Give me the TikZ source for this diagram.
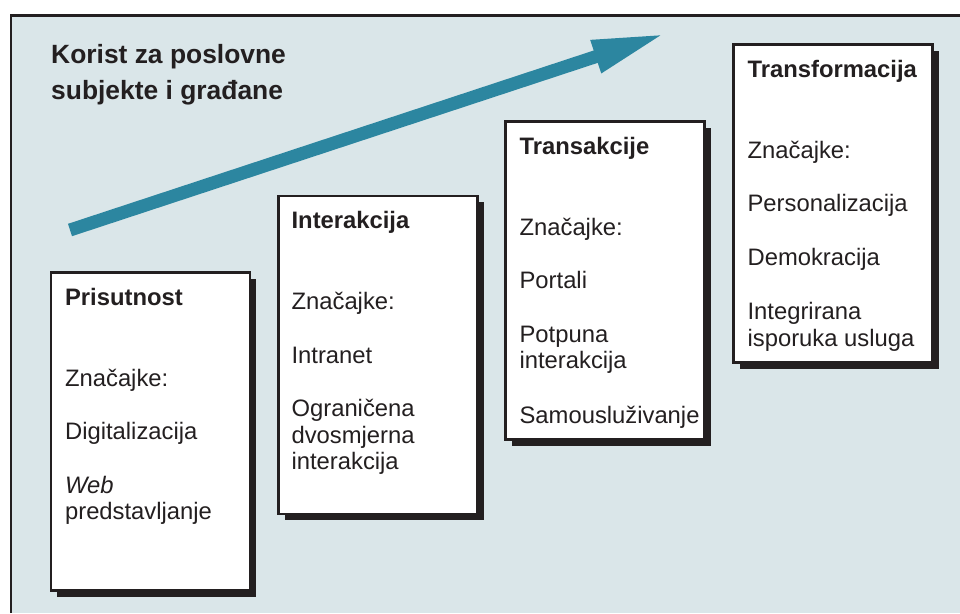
\documentclass[tikz,border=0pt]{standalone}
\usepackage{fontspec}
\setmainfont{Liberation Sans}
\usetikzlibrary{calc,shadows,arrows.meta}
\definecolor{bgc}{RGB}{218,230,233}
\definecolor{teal1}{RGB}{44,134,160}
\definecolor{ink}{RGB}{35,31,32}
\tikzset{
  stagebox/.style={draw=ink, line width=2.2pt, fill=white, rectangle, inner sep=0pt,
    minimum width=199pt, minimum height=318pt,
    drop shadow={shadow xshift=6pt, shadow yshift=-6pt, fill=ink, opacity=1}},
  txt/.style={anchor=base west, inner sep=0pt, font=\fontsize{23.8}{26.5}\selectfont, text=ink},
  ttl/.style={txt, font=\fontsize{23.8}{26.5}\selectfont\bfseries},
  bigttl/.style={anchor=base west, inner sep=0pt, font=\fontsize{26.4}{36}\selectfont\bfseries, text=ink}
}
\begin{document}
\begin{tikzpicture}[x=1pt,y=-1pt]
\useasboundingbox (0,0) rectangle (960,613);
\fill[bgc] (11,15.5) rectangle (960,613);
\draw[ink, line width=2.5pt] (11,613) -- (11,15.5) -- (960,15.5);

\node[bigttl] (t1) at (51,63) {Korist za poslovne};
\node[bigttl] (t2) at (51,99) {subjekte i građane};

\coordinate (as) at (70,230);
\coordinate (at) at (666,33.5);
\draw[teal1, line width=13pt, -{Triangle[length=74pt,width=31pt]}] (as) -- (at);

% boxes
\node[stagebox] (b1) at (150.5,431.5) {};
\node[stagebox] (b2) at (378,355) {};
\node[stagebox] (b3) at (605,280.5) {};
\node[stagebox] (b4) at (833,203.5) {};

% box 1
\node[ttl] (b1a) at ($(b1.north west)+(15,34)$) {Prisutnost};
\node[txt] (b1b) at ($(b1.north west)+(15,115)$) {Značajke:};
\node[txt] (b1c) at ($(b1.north west)+(15,168.5)$) {Digitalizacija};
\node[txt] (b1d) at ($(b1.north west)+(15,222)$) {\itshape Web};
\node[txt] (b1e) at ($(b1.north west)+(15,248.5)$) {predstavljanje};

% box 2
\node[ttl] (b2a) at ($(b2.north west)+(14,34)$) {Interakcija};
\node[txt] (b2b) at ($(b2.north west)+(14,115)$) {Značajke:};
\node[txt] (b2c) at ($(b2.north west)+(14,168.5)$) {Intranet};
\node[txt] (b2d) at ($(b2.north west)+(14,222)$) {Ograničena};
\node[txt] (b2e) at ($(b2.north west)+(14,248.5)$) {dvosmjerna};
\node[txt] (b2f) at ($(b2.north west)+(14,275)$) {interakcija};

% box 3
\node[ttl] (b3a) at ($(b3.north west)+(15,34)$) {Transakcije};
\node[txt] (b3b) at ($(b3.north west)+(15,115)$) {Značajke:};
\node[txt] (b3c) at ($(b3.north west)+(15,168.5)$) {Portali};
\node[txt] (b3d) at ($(b3.north west)+(15,222)$) {Potpuna};
\node[txt] (b3e) at ($(b3.north west)+(15,248.5)$) {interakcija};
\node[txt] (b3f) at ($(b3.north west)+(15,303)$) {Samousluživanje};

% box 4
\node[ttl] (b4a) at ($(b4.north west)+(15,34)$) {Transformacija};
\node[txt] (b4b) at ($(b4.north west)+(15,115)$) {Značajke:};
\node[txt] (b4c) at ($(b4.north west)+(15,168.5)$) {Personalizacija};
\node[txt] (b4d) at ($(b4.north west)+(15,222.5)$) {Demokracija};
\node[txt] (b4e) at ($(b4.north west)+(15,276.5)$) {Integrirana};
\node[txt] (b4f) at ($(b4.north west)+(15,303)$) {isporuka usluga};
\end{tikzpicture}
\end{document}
